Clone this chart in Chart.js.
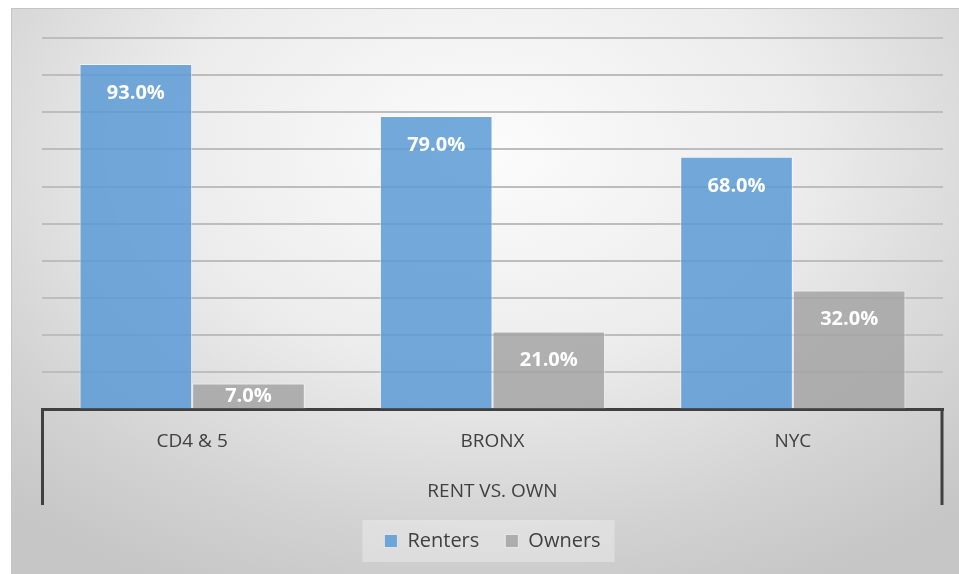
<!DOCTYPE html>
<html>
<head>
<meta charset="utf-8">
<script src="https://cdn.jsdelivr.net/npm/chart.js@4.4.1/dist/chart.umd.min.js"></script>
<style>
  html, body { margin: 0; padding: 0; background: #ffffff; }
  #wrap {
    position: absolute; left: 11px; top: 8px; width: 948px; height: 566px;
    background: radial-gradient(ellipse 75% 85% at 50% 25%, #fcfcfc 0%, #ececec 45%, #d2d2d2 80%, #c6c6c6 100%);
    border-top: 1px solid #c4c4c4; border-left: 1px solid #c4c4c4;
    box-sizing: border-box;
  }
  canvas { display: block; }
</style>
</head>
<body>
<div id="wrap"><canvas id="chart" width="947" height="565"></canvas></div>
<script>
const categories = ['CD4 & 5', 'BRONX', 'NYC'];
const renters = [93, 79, 68];
const owners = [7, 21, 32];
const groupTitle = 'RENT VS. OWN';

const FONT = "'Open Sans', 'DejaVu Sans', sans-serif";
const TEXT = '#404040';

// value labels inside the top of each bar
const barLabels = {
    id: 'barLabels',
    afterDatasetsDraw(chart) {
        const ctx = chart.ctx;
        ctx.save();
        ctx.font = `bold 20px ${FONT}`;
        ctx.fillStyle = '#ffffff';
        ctx.textAlign = 'center';
        ctx.textBaseline = 'middle';
        chart.data.datasets.forEach((ds, i) => {
            chart.getDatasetMeta(i).data.forEach((bar, j) => {
                const y = Math.min(bar.y + 29, (bar.y + bar.base) / 2);
                ctx.fillText(ds.data[j].toFixed(1) + '%', bar.x, y);
            });
        });
        ctx.restore();
    }
};

// outer brackets of the multi-level category axis + legend panel
const axisFrame = {
    id: 'axisFrame',
    beforeDraw(chart) {
        const lg = chart.legend;
        if (!lg || !lg.legendHitBoxes.length) return;
        const boxes = lg.legendHitBoxes;
        const l = Math.min(...boxes.map(b => b.left)) - 22;
        const r = Math.max(...boxes.map(b => b.left + b.width)) + 14;
        const t = boxes[0].top - 11;
        const h = boxes[0].height + 22;
        const ctx = chart.ctx;
        ctx.save();
        ctx.fillStyle = 'rgba(255,255,255,0.3)';
        ctx.fillRect(l, t, r - l, h);
        ctx.restore();
    },
    afterDraw(chart) {
        const x = chart.scales.x;
        const ctx = chart.ctx;
        ctx.save();
        ctx.strokeStyle = TEXT;
        ctx.lineWidth = 3;
        ctx.beginPath();
        ctx.moveTo(x.left + 0.5, x.top);
        ctx.lineTo(x.left + 0.5, x.bottom);
        ctx.moveTo(x.right - 1, x.top);
        ctx.lineTo(x.right - 1, x.bottom);
        ctx.stroke();
        ctx.restore();
    }
};

new Chart(document.getElementById('chart'), {
    type: 'bar',
    data: {
        labels: categories,
        datasets: [{
            label: 'Renters',
            data: renters,
            backgroundColor: 'rgba(91, 155, 213, 0.85)',
            borderColor: 'rgba(255, 255, 255, 0.55)',
            borderWidth: 1,
            categoryPercentage: 0.75,
            barPercentage: 1.0
        }, {
            label: 'Owners',
            data: owners,
            backgroundColor: 'rgba(165, 165, 165, 0.85)',
            borderColor: 'rgba(255, 255, 255, 0.55)',
            borderWidth: 1,
            categoryPercentage: 0.75,
            barPercentage: 1.0
        }]
    },
    options: {
        responsive: false,
        animation: false,
        layout: { padding: { left: 30, right: 16, top: 29, bottom: 13 } },
        plugins: {
            legend: {
                position: 'bottom',
                labels: {
                    color: TEXT,
                    font: { family: FONT, size: 20 },
                    boxWidth: 13,
                    boxHeight: 13,
                    padding: 26
                }
            },
            tooltip: { enabled: false }
        },
        scales: {
            x: {
                grid: { display: false },
                border: { color: TEXT, width: 3 },
                ticks: {
                    color: TEXT,
                    font: { family: FONT, size: 19 },
                    padding: 13
                },
                title: {
                    display: true,
                    text: groupTitle,
                    color: TEXT,
                    font: { family: FONT, size: 19 },
                    padding: { top: 14, bottom: 2 }
                }
            },
            y: {
                min: 0,
                max: 100,
                ticks: { display: false, stepSize: 10 },
                border: { display: false },
                grid: { color: '#bdbdbd', lineWidth: 2, drawTicks: false }
            }
        }
    },
    plugins: [barLabels, axisFrame]
});
</script>
</body>
</html>
